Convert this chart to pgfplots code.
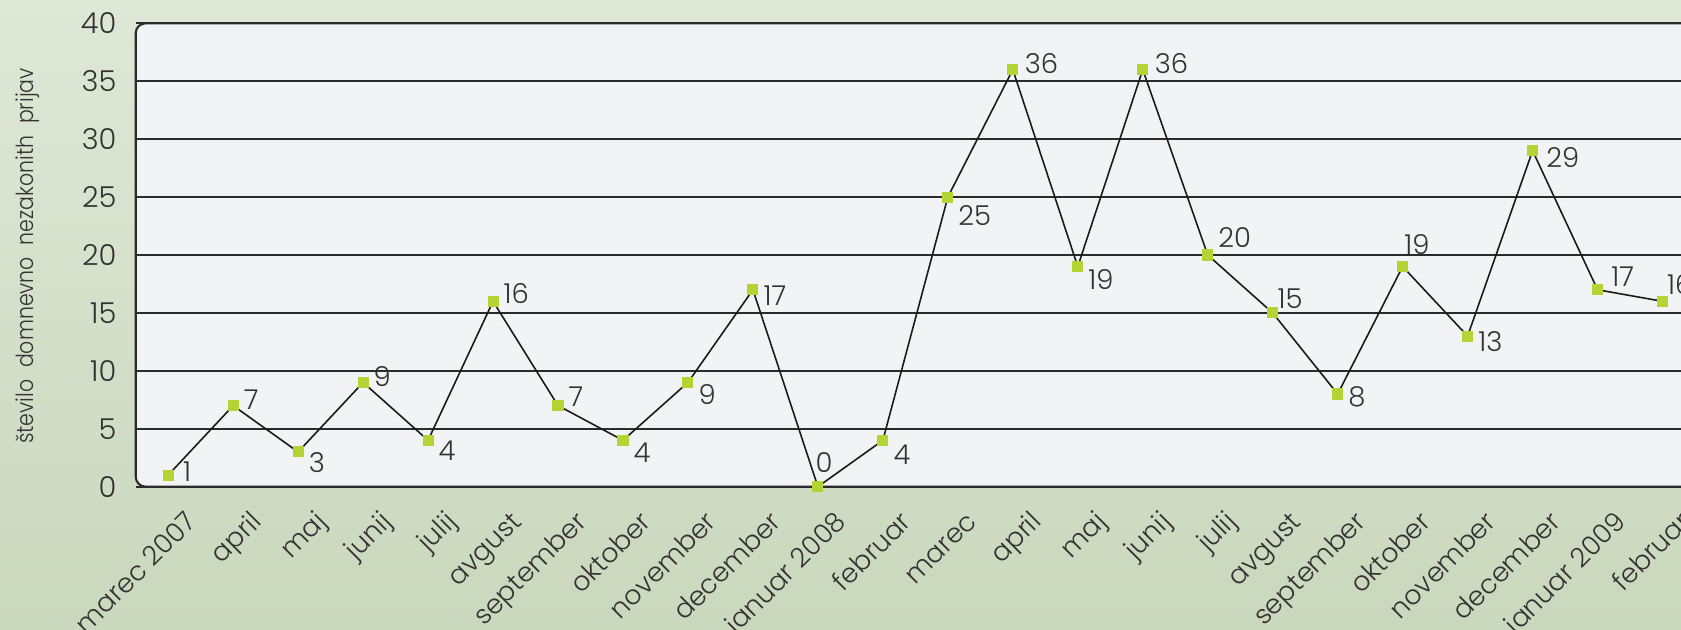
\documentclass[border=0pt]{standalone}
\usepackage{pgfplots}
\pgfplotsset{compat=1.18}
\usepackage{pgfplotstable}
\usepackage{fontspec}
\setmainfont{Poppins}[UprightFont={* Light}]
\newfontfamily\ylabfont{Poppins}[UprightFont={* Light}, FakeStretch=0.87]

\definecolor{bgtop}{HTML}{DFE7D6}
\definecolor{bgbot}{HTML}{CAD8BD}
\definecolor{plotbg}{HTML}{F2F3F5}
\definecolor{gridc}{HTML}{2B2B2B}
\definecolor{linec}{HTML}{1A1A1A}
\definecolor{markc}{HTML}{B4D334}
\definecolor{textc}{HTML}{333333}

% x = month index, y = count, dx/dy = label offsets in pt
\pgfplotstableread{
x y dx dy
0 1 4.0 0.9
1 7 2.8 1.8
2 3 2.8 -3.0
3 9 2.8 1.8
4 4 2.8 -3.0
5 16 2.8 2.1
6 7 2.8 2.4
7 4 2.8 -3.4
8 9 2.8 -3.4
9 17 2.8 -1.8
10 0 -0.9 6.9
11 4 2.8 -4.0
12 25 2.8 -5.2
13 36 3.2 1.8
14 19 2.8 -3.7
15 36 3.2 1.8
16 20 2.8 4.9
17 15 1.2 4.0
18 8 2.8 -0.9
19 19 0.3 6.4
20 13 2.8 -1.6
21 29 3.7 -2.0
22 17 3.7 3.7
23 16 1.1 4.8
}\datatable

\begin{document}
\begin{tikzpicture}
\useasboundingbox (0,0) rectangle (168.1mm,63mm);
\clip (0,0) rectangle (168.1mm,63mm);
\shade[top color=bgtop, bottom color=bgbot] (0,0) rectangle (168.1mm,63mm);
% plot area (rounded on the left, runs off the right edge)
\filldraw[fill=plotbg, draw=gridc, line width=0.6pt, rounded corners=1mm]
  (13.57mm,14.33mm) rectangle (169.5mm,60.67mm);
\node[rotate=90, anchor=base, font=\ylabfont\fontsize{6.7}{8}\selectfont, text=textc, inner sep=0pt]
  at (3.35mm,37.4mm) {število\hspace{.5em}domnevno\hspace{.5em}nezakonith\hspace{.5em}prijav};
\begin{axis}[
  at={(13.57mm,14.33mm)}, anchor=south west,
  scale only axis, width=155.93mm, height=46.34mm,
  xmin=-0.5, xmax=23.5, ymin=0, ymax=40,
  axis line style={draw=none},
  major tick length=0pt,
  ytick={0,5,...,40},
  xtick={0,...,23},
  xticklabels={marec 2007,april,maj,junij,julij,avgust,september,oktober,november,december,januar 2008,februar,marec,april,maj,junij,julij,avgust,september,oktober,november,december,januar 2009,februar},
  ymajorgrids, grid style={gridc, line width=0.6pt},
  /pgf/number format/assume math mode=true,
  yticklabel style={font=\fontsize{8.2}{10}\selectfont, text=textc, anchor=east, inner sep=0pt, xshift=-5.3pt},
  xticklabel style={font=\fontsize{7.6}{9}\selectfont, text=textc, rotate=45, anchor=north east, inner sep=0pt, text height=0.72em, text depth=0.2em, xshift=-1.2pt, yshift=-6pt},
  clip=false,
]
\addplot[color=linec, line width=0.45pt, mark=square*, mark size=1.35pt,
  mark options={draw=markc, fill=markc},
  nodes near coords, point meta=explicit symbolic,
  visualization depends on={\thisrow{dx} \as \dx},
  visualization depends on={\thisrow{dy} \as \dy},
  every node near coord/.append style={anchor=west, inner sep=0pt, xshift=\dx pt, yshift=\dy pt,
    font=\fontsize{7.8}{9}\selectfont, text=textc}]
  table[x=x, y=y, meta=y]{\datatable};
\end{axis}
\end{tikzpicture}
\end{document}
